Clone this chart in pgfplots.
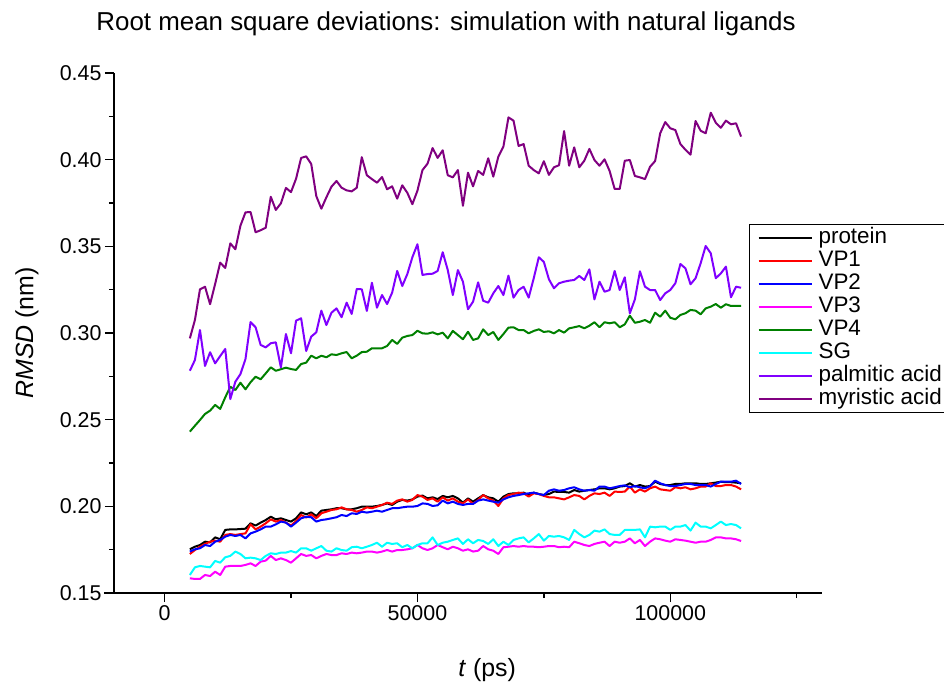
\documentclass[border=0pt]{standalone}
\usepackage{fontspec}
\setmainfont{Liberation Sans}
\usepackage{pgfplots}
\usepackage{pgfplotstable}
\pgfplotsset{compat=1.18}
\definecolor{cprot}{RGB}{0,0,0}
\definecolor{cvpa}{RGB}{255,0,0}
\definecolor{cvpb}{RGB}{0,0,255}
\definecolor{cvpc}{RGB}{255,0,255}
\definecolor{cvpd}{RGB}{0,128,0}
\definecolor{csg}{RGB}{0,255,255}
\definecolor{cpalm}{RGB}{128,0,255}
\definecolor{cmyr}{RGB}{128,0,128}
\pgfplotstableread{
x prot vpa vpb vpc vpd sg palm myr
5000 .1752 .1725 .1739 .1585 .2431 .1604 .2782 .2969
6000 .1767 .1748 .1752 .1581 .2465 .1648 .2844 .3075
7000 .1777 .1767 .1758 .1581 .2498 .1656 .3017 .3252
8000 .1796 .1783 .1777 .1604 .2533 .1652 .2810 .3267
9000 .1792 .1796 .1771 .1598 .2552 .1648 .2889 .3166
10000 .1821 .1802 .1796 .1623 .2585 .1685 .2825 .3283
11000 .1810 .1796 .1806 .1604 .2562 .1675 .2867 .3406
12000 .1864 .1835 .1825 .1652 .2629 .1706 .2908 .3375
13000 .1867 .1840 .1835 .1656 .2690 .1714 .2619 .3517
14000 .1867 .1835 .1829 .1656 .2671 .1739 .2719 .3483
15000 .1869 .1840 .1835 .1656 .2713 .1725 .2763 .3619
16000 .1871 .1844 .1815 .1662 .2675 .1700 .2850 .3696
17000 .1902 .1896 .1844 .1671 .2716 .1704 .3063 .3698
18000 .1889 .1867 .1854 .1656 .2748 .1700 .3033 .3581
19000 .1906 .1883 .1867 .1681 .2733 .1690 .2931 .3593
20000 .1921 .1902 .1883 .1687 .2767 .1714 .2917 .3607
21000 .1940 .1925 .1883 .1714 .2802 .1729 .2941 .3786
22000 .1925 .1912 .1896 .1690 .2782 .1725 .2946 .3710
23000 .1931 .1921 .1912 .1700 .2791 .1733 .2802 .3748
24000 .1921 .1906 .1906 .1690 .2800 .1733 .2994 .3837
25000 .1912 .1889 .1883 .1675 .2792 .1742 .2883 .3813
26000 .1931 .1915 .1906 .1700 .2787 .1733 .3071 .3890
27000 .1965 .1950 .1931 .1725 .2821 .1758 .3085 .4010
28000 .1954 .1935 .1940 .1714 .2829 .1758 .2896 .4019
29000 .1965 .1954 .1937 .1719 .2869 .1744 .2979 .3975
30000 .1944 .1931 .1912 .1700 .2854 .1758 .3004 .3790
31000 .1975 .1960 .1921 .1714 .2869 .1771 .3129 .3717
32000 .1979 .1969 .1925 .1725 .2860 .1744 .3046 .3783
33000 .1983 .1979 .1931 .1719 .2877 .1739 .3117 .3844
34000 .1989 .1983 .1937 .1719 .2873 .1758 .3142 .3877
35000 .1989 .1994 .1950 .1729 .2883 .1748 .3091 .3838
36000 .1983 .1983 .1944 .1725 .2890 .1744 .3175 .3823
37000 .1983 .1979 .1960 .1733 .2854 .1764 .3110 .3817
38000 .1989 .1969 .1956 .1729 .2869 .1767 .3254 .3838
39000 .1998 .1979 .1969 .1733 .2890 .1758 .3252 .4014
40000 .1998 .1994 .1964 .1739 .2892 .1767 .3127 .3910
41000 .1998 .1989 .1969 .1739 .2912 .1777 .3290 .3888
42000 .2002 .1998 .1975 .1733 .2912 .1790 .3146 .3867
43000 .2008 .2008 .1969 .1739 .2912 .1767 .3219 .3900
44000 .2017 .2021 .1979 .1748 .2925 .1790 .3167 .3829
45000 .2008 .2014 .1989 .1739 .2960 .1783 .3233 .3846
46000 .2027 .2033 .1989 .1748 .2937 .1787 .3358 .3775
47000 .2037 .2040 .1994 .1748 .2973 .1764 .3271 .3852
48000 .2033 .2027 .1998 .1752 .2983 .1777 .3340 .3809
49000 .2040 .2037 .1998 .1758 .2988 .1758 .3437 .3743
50000 .2056 .2065 .2002 .1777 .3013 .1777 .3512 .3821
51000 .2062 .2056 .2017 .1758 .2998 .1787 .3335 .3940
52000 .2046 .2037 .2014 .1748 .2996 .1787 .3340 .3977
53000 .2052 .2046 .2002 .1758 .3004 .1821 .3342 .4067
54000 .2042 .2027 .2006 .1777 .2992 .1777 .3358 .4010
55000 .2060 .2052 .2033 .1764 .3002 .1790 .3466 .4054
56000 .2052 .2033 .2017 .1752 .2969 .1796 .3363 .3910
57000 .2060 .2046 .2027 .1767 .3012 .1806 .3219 .3898
58000 .2046 .2027 .2014 .1758 .2988 .1815 .3363 .3940
59000 .2021 .2017 .2008 .1744 .2964 .1783 .3296 .3734
60000 .2046 .2040 .2014 .1752 .3007 .1810 .3137 .3925
61000 .2027 .2014 .2014 .1739 .2960 .1787 .3181 .3846
62000 .2046 .2037 .2033 .1744 .2969 .1806 .3292 .3935
63000 .2065 .2065 .2040 .1771 .3021 .1800 .3186 .3912
64000 .2052 .2046 .2033 .1752 .2988 .1783 .3175 .4008
65000 .2046 .2033 .2027 .1744 .3006 .1810 .3229 .3902
66000 .2027 .2002 .2021 .1725 .2960 .1771 .3271 .4017
67000 .2056 .2046 .2040 .1764 .2994 .1796 .3219 .4075
68000 .2071 .2065 .2052 .1767 .3031 .1777 .3331 .4244
69000 .2075 .2071 .2060 .1771 .3033 .1806 .3204 .4225
70000 .2075 .2079 .2065 .1767 .3017 .1815 .3248 .4079
71000 .2079 .2075 .2071 .1771 .3017 .1821 .3267 .4090
72000 .2065 .2056 .2075 .1767 .2998 .1792 .3204 .3965
73000 .2079 .2075 .2079 .1767 .3012 .1815 .3316 .3940
74000 .2071 .2071 .2071 .1764 .3021 .1840 .3437 .3921
75000 .2065 .2060 .2065 .1767 .3006 .1802 .3410 .3991
76000 .2071 .2052 .2090 .1771 .3010 .1829 .3310 .3912
77000 .2085 .2052 .2098 .1771 .2998 .1825 .3258 .3956
78000 .2083 .2046 .2090 .1764 .3017 .1829 .3287 .3968
79000 .2083 .2040 .2094 .1767 .3002 .1821 .3296 .4165
80000 .2079 .2052 .2104 .1764 .3027 .1806 .3302 .3965
81000 .2094 .2065 .2110 .1796 .3033 .1864 .3306 .4071
82000 .2085 .2060 .2098 .1787 .3040 .1840 .3329 .3956
83000 .2090 .2040 .2090 .1777 .3027 .1821 .3306 .3994
84000 .2094 .2060 .2094 .1771 .3042 .1835 .3367 .4062
85000 .2098 .2075 .2090 .1783 .3062 .1860 .3194 .3998
86000 .2104 .2071 .2114 .1790 .3033 .1854 .3296 .3965
87000 .2104 .2079 .2114 .1796 .3062 .1867 .3238 .4002
88000 .2098 .2060 .2104 .1771 .3056 .1840 .3248 .3935
89000 .2104 .2085 .2110 .1796 .3062 .1835 .3358 .3831
90000 .2114 .2083 .2117 .1790 .3033 .1835 .3248 .3831
91000 .2117 .2085 .2121 .1796 .3050 .1864 .3321 .3994
92000 .2133 .2114 .2110 .1815 .3100 .1864 .3114 .3998
93000 .2114 .2079 .2117 .1787 .3059 .1864 .3194 .3906
94000 .2123 .2098 .2110 .1806 .3065 .1867 .3356 .3898
95000 .2114 .2085 .2104 .1771 .3075 .1821 .3267 .3888
96000 .2117 .2104 .2117 .1796 .3059 .1883 .3248 .3959
97000 .2142 .2114 .2148 .1815 .3117 .1879 .3248 .3992
98000 .2129 .2098 .2133 .1810 .3094 .1883 .3190 .4152
99000 .2123 .2094 .2123 .1802 .3129 .1883 .3229 .4217
100000 .2123 .2090 .2117 .1796 .3088 .1864 .3248 .4181
101000 .2129 .2110 .2117 .1810 .3079 .1883 .3287 .4171
102000 .2129 .2104 .2123 .1806 .3104 .1883 .3398 .4090
103000 .2133 .2110 .2129 .1802 .3114 .1892 .3373 .4057
104000 .2133 .2098 .2129 .1796 .3133 .1860 .3281 .4029
105000 .2133 .2104 .2123 .1790 .3129 .1906 .3316 .4223
106000 .2129 .2114 .2123 .1796 .3108 .1883 .3402 .4167
107000 .2129 .2114 .2123 .1796 .3142 .1883 .3502 .4152
108000 .2133 .2133 .2114 .1806 .3152 .1873 .3460 .4271
109000 .2137 .2117 .2129 .1821 .3167 .1892 .3316 .4213
110000 .2142 .2117 .2142 .1821 .3146 .1912 .3344 .4184
111000 .2139 .2123 .2142 .1815 .3166 .1892 .3383 .4225
112000 .2139 .2123 .2142 .1815 .3156 .1898 .3206 .4204
113000 .2137 .2114 .2148 .1810 .3156 .1892 .3267 .4210
114000 .2133 .2098 .2129 .1800 .3157 .1873 .3261 .4133
}\rmsd
\begin{document}
\begin{tikzpicture}
\useasboundingbox (0,0) rectangle (944bp,684bp);
\begin{axis}[
  at={(114bp,91bp)}, anchor=south west,
  scale only axis, width=708bp, height=520bp,
  xmin=-10000, xmax=130000, ymin=0.15, ymax=0.45,
  axis lines=left,
  axis line style={-, line width=1.4bp, black},
  x axis line style={shorten <=-10bp},
  every tick/.style={black, line width=1.4bp},
  tick align=outside,
  major tick length=9bp, minor tick length=5bp,
  xtick={0,50000,100000}, minor xtick={25000,75000,125000},
  ytick={0.15,0.20,0.25,0.30,0.35,0.40,0.45},
  minor ytick={0.175,0.225,0.275,0.325,0.375,0.425},
  scaled x ticks=false, scaled y ticks=false,
  /pgf/number format/assume math mode=true,
  xticklabel style={/pgf/number format/.cd, fixed, precision=0, 1000 sep={}},
  yticklabel style={/pgf/number format/.cd, fixed, fixed zerofill, precision=2},
  tick label style={font=\fontsize{21.5}{25}\selectfont},
  title={Root mean square deviations: simulation with natural ligands},
  title style={font=\fontsize{26}{30}\selectfont, at={(axis description cs:0.469,1)}, anchor=base, yshift=37bp},
  xlabel={\textit{t} (ps)},
  xlabel style={font=\fontsize{25}{29}\selectfont, at={(axis description cs:0.527,0)}, anchor=base, yshift=-83bp},
  ylabel={\textit{RMSD} (nm)},
  ylabel style={font=\fontsize{25}{29}\selectfont, at={(axis description cs:-0.1229,0.5)}, anchor=center},
  every axis plot/.append style={line width=2bp, line join=round, mark=none},
  legend style={at={(axis description cs:0.897,0.7096)}, anchor=north west,
    draw=black, line width=1bp, fill=white,
    font=\fontsize{22.5}{27}\selectfont,
    inner xsep=8bp, inner ysep=2bp, column sep=6bp, row sep=0bp,
    nodes={inner sep=0bp, text height=17bp, text depth=6bp, outer ysep=2.5bp}},
  legend cell align=left,
  legend image code/.code={\draw[#1, line width=2bp] (0bp,0bp) -- (53bp,0bp);},
]
\addplot[cprot] table[x=x, y=prot] {\rmsd};
\addlegendentry{protein}
\addplot[cvpa] table[x=x, y=vpa] {\rmsd};
\addlegendentry{VP1}
\addplot[cvpb] table[x=x, y=vpb] {\rmsd};
\addlegendentry{VP2}
\addplot[cvpc] table[x=x, y=vpc] {\rmsd};
\addlegendentry{VP3}
\addplot[cvpd] table[x=x, y=vpd] {\rmsd};
\addlegendentry{VP4}
\addplot[csg] table[x=x, y=sg] {\rmsd};
\addlegendentry{SG}
\addplot[cpalm] table[x=x, y=palm] {\rmsd};
\addlegendentry{palmitic acid}
\addplot[cmyr] table[x=x, y=myr] {\rmsd};
\addlegendentry{myristic acid}
\end{axis}
\end{tikzpicture}
\end{document}
